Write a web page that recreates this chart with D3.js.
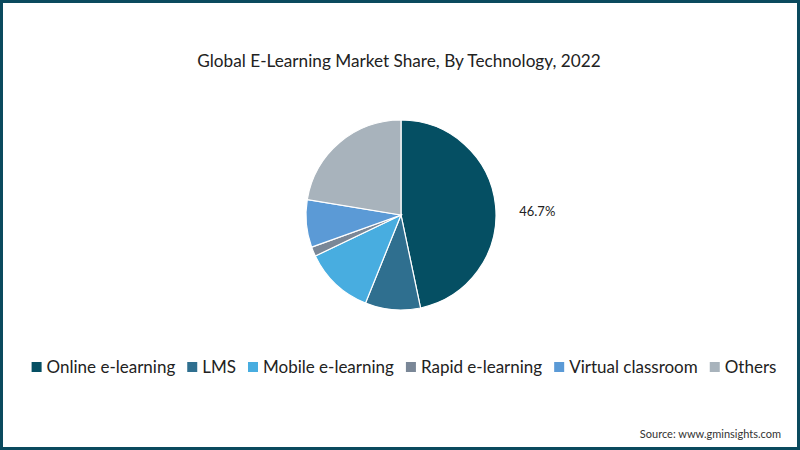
<!DOCTYPE html>
<html>
<head>
<meta charset="utf-8">
<script src="https://cdn.jsdelivr.net/npm/d3@7"></script>
<style>
  body { margin: 0; background: #fff; }
  svg { display: block; font-family: Lato, "Open Sans", sans-serif; }
</style>
</head>
<body>
<svg id="chart" width="800" height="450"></svg>
<script>
const categories = ["Online e-learning", "LMS", "Mobile e-learning", "Rapid e-learning", "Virtual classroom", "Others"];
const shares = [46.7, 9.4, 11.8, 1.6, 8.1, 22.4];
const colors = ["#054f63", "#2f6f8f", "#48ade0", "#7a8797", "#5b9ad6", "#a8b3bc"];
const shownLabels = ["46.7%"];

const svg = d3.select("#chart");
const W = 800, H = 450;

svg.append("rect").attr("x", 1.5).attr("y", 1.5).attr("width", W - 3).attr("height", H - 3)
  .attr("fill", "#fff").attr("stroke", "#0b4a5e").attr("stroke-width", 3);

svg.append("text").attr("x", 399).attr("y", 67).attr("text-anchor", "middle")
  .attr("font-size", 17.2).attr("fill", "#222")
  .text("Global E-Learning Market Share, By Technology, 2022");

const cx = 401, cy = 215, R = 95;
const data = categories.map((c, i) => ({ cat: c, value: shares[i], color: colors[i] }));
const pie = d3.pie().value(d => d.value).sort(null);
const arc = d3.arc().innerRadius(0).outerRadius(R);
const arcs = pie(data);

const g = svg.append("g").attr("transform", `translate(${cx},${cy})`);
g.selectAll("path").data(arcs).join("path")
  .attr("d", arc).attr("fill", d => d.data.color)
  .attr("stroke", "#fff").attr("stroke-width", 1.2);

// label for largest slice
const labelArc = d3.arc().innerRadius(R + 42).outerRadius(R + 42);
g.append("text")
  .attr("x", labelArc.centroid(arcs[0])[0])
  .attr("y", 1)
  .attr("text-anchor", "middle")
  .attr("font-size", 13).attr("fill", "#222")
  .text(shownLabels[0]);

// legend
const legend = svg.append("g");
const items = legend.selectAll("g").data(data).join("g");
items.append("rect").attr("width", 10).attr("height", 10).attr("y", -5).attr("fill", d => d.color);
items.append("text").attr("x", 15).attr("y", 6).attr("font-size", 17).attr("fill", "#222").text(d => d.cat);
let x = 0;
const gap = 12;
items.each(function () {
  const w = 15 + d3.select(this).select("text").node().getComputedTextLength();
  d3.select(this).attr("transform", `translate(${x},0)`);
  x += w + gap;
});
const total = x - gap;
legend.attr("transform", `translate(${(W - total) / 2 + 4},367)`);

svg.append("text").attr("x", 781).attr("y", 438).attr("text-anchor", "end")
  .attr("font-size", 11).attr("fill", "#333").text("Source: www.gminsights.com");
</script>
</body>
</html>
